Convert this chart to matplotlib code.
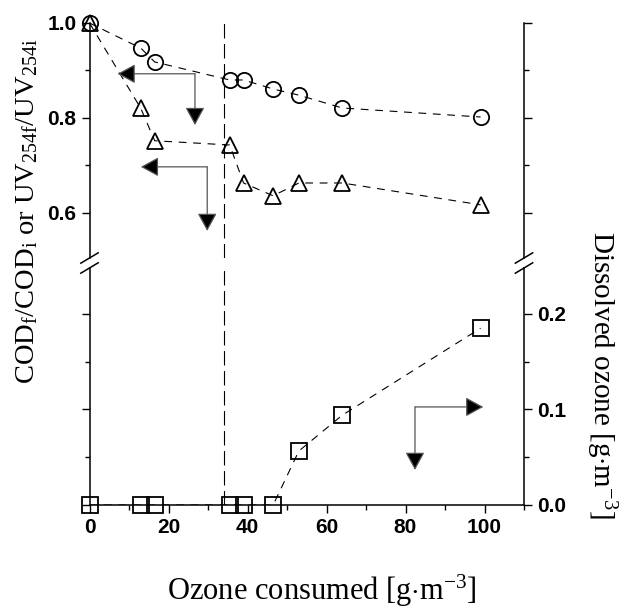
import matplotlib
matplotlib.use("Agg")
import matplotlib.pyplot as plt
import numpy as np

plt.rcParams['mathtext.fontset'] = 'custom'
plt.rcParams['mathtext.rm'] = 'Liberation Serif'
plt.rcParams['mathtext.it'] = 'Liberation Serif:italic'

# ozone consumed [g/m3]
ozone_consumed = [0, 13, 16.5, 35.5, 39, 46.5, 53, 64, 99]
# normalised ratios (upper panel)
ratio_circle = [1.0, 0.947, 0.918, 0.880, 0.880, 0.861, 0.848, 0.821, 0.802]
ratio_triangle = [1.0, 0.820, 0.752, 0.743, 0.663, 0.636, 0.663, 0.663, 0.617]
# dissolved ozone [g/m3] (lower panel)
dissolved_ozone = [0, 0, 0, 0, 0, 0, 0.0565, 0.094, 0.185]

x_ticks = [0, 20, 40, 60, 80, 100]
upper_ticks = [0.6, 0.8, 1.0]
lower_ticks = [0.0, 0.1, 0.2]
threshold = 34

tick_font = dict(family='Liberation Sans', weight='bold', size=15)

fig = plt.figure(figsize=(6.22, 6.08), dpi=100)
W, H = 622, 608
left, right = 89.5 / W, 524 / W
ax_top = fig.add_axes([left, 1 - 258 / H, right - left, (258 - 23) / H])
ax_bot = fig.add_axes([left, 1 - 505 / H, right - left, (505 - 268) / H])

line_kw = dict(color='black', lw=0.8, dashes=(7, 6))
mk_kw = dict(mfc='none', mec='black', mew=1.3, ms=11, clip_on=False, zorder=5)

ax_top.plot(ozone_consumed, ratio_circle, **line_kw)
ax_top.plot(ozone_consumed, ratio_circle, 'o', ls='none', **mk_kw)
ax_top.plot(ozone_consumed, ratio_triangle, **line_kw)
ax_top.plot(ozone_consumed, ratio_triangle, '^', ls='none', **mk_kw)
ax_bot.plot(ozone_consumed, dissolved_ozone, **line_kw)
ax_bot.plot(ozone_consumed, dissolved_ozone, 's', ls='none', **mk_kw)

for ax in (ax_top, ax_bot):
    ax.axvline(threshold, color='black', lw=0.8, dashes=(13, 5))
    ax.set_xlim(0, 110)
    ax.spines['top'].set_visible(False)
    for s in ax.spines.values():
        s.set_linewidth(1.1)
    ax.tick_params(which='both', direction='out', left=True, right=True, width=1.0)
    ax.tick_params(which='major', length=6)
    ax.tick_params(which='minor', length=3.5)

ax_top.set_ylim(0.505, 1.0)
ax_top.spines['bottom'].set_visible(False)
ax_top.set_xticks([])
ax_top.set_yticks(upper_ticks)
ax_top.set_yticks([0.7, 0.9], minor=True)
ax_top.set_yticklabels(['%.1f' % v for v in upper_ticks], fontdict=tick_font)
ax_top.tick_params(labelleft=True, labelright=False)

ax_bot.set_ylim(0, 0.248)
ax_bot.set_yticks(lower_ticks)
ax_bot.set_yticks([0.05, 0.15], minor=True)
ax_bot.set_yticklabels(['%.1f' % v for v in lower_ticks], fontdict=tick_font)
ax_bot.tick_params(labelleft=False, labelright=True)
ax_bot.set_xticks(x_ticks)
ax_bot.set_xticks([10, 30, 50, 70, 90, 110], minor=True)
ax_bot.set_xticklabels([str(v) for v in x_ticks], fontdict=tick_font)

# break marks on both spines
for xa in (0, 1):
    for ax, ya in ((ax_top, 0), (ax_bot, 1)):
        ax.plot([xa - 0.02, xa + 0.02], [ya - 0.022, ya + 0.022], transform=ax.transAxes,
                color='black', lw=1.1, clip_on=False)

# direction arrows
def arrow(ax, corner, tips):
    for tip in tips:
        ax.annotate('', xy=tip, xytext=corner,
                    arrowprops=dict(arrowstyle='-|>,head_length=1.1,head_width=0.6',
                                    lw=0.9, ec='#555555', fc='black', shrinkA=0, shrinkB=0))

arrow(ax_top, (26.7, 0.893), [(7.1, 0.893), (26.7, 0.785)])
arrow(ax_top, (29.8, 0.697), [(13.0, 0.697), (29.8, 0.562)])
arrow(ax_bot, (82.4, 0.1026), [(99.7, 0.1026), (82.4, 0.0367)])

fig.text(27 / W, 1 - 211 / H,
         r'COD$_{\mathrm{f}}$/COD$_{\mathrm{i}}$ or UV$_{\mathrm{254f}}$/UV$_{\mathrm{254i}}$',
         rotation=90, ha='center', va='center', family='Liberation Serif', size=20.5)
fig.text(601 / W, 1 - 375 / H, r'Dissolved ozone [g$\cdot$m$^{\mathrm{-3}}$]',
         rotation=-90, ha='center', va='center', family='Liberation Serif', size=21)
fig.text(322 / W, 1 - 591 / H, r'Ozone consumed [g$\cdot$m$^{\mathrm{-3}}$]',
         ha='center', va='center', family='Liberation Serif', size=22)

fig.savefig('out.png', dpi=100)
